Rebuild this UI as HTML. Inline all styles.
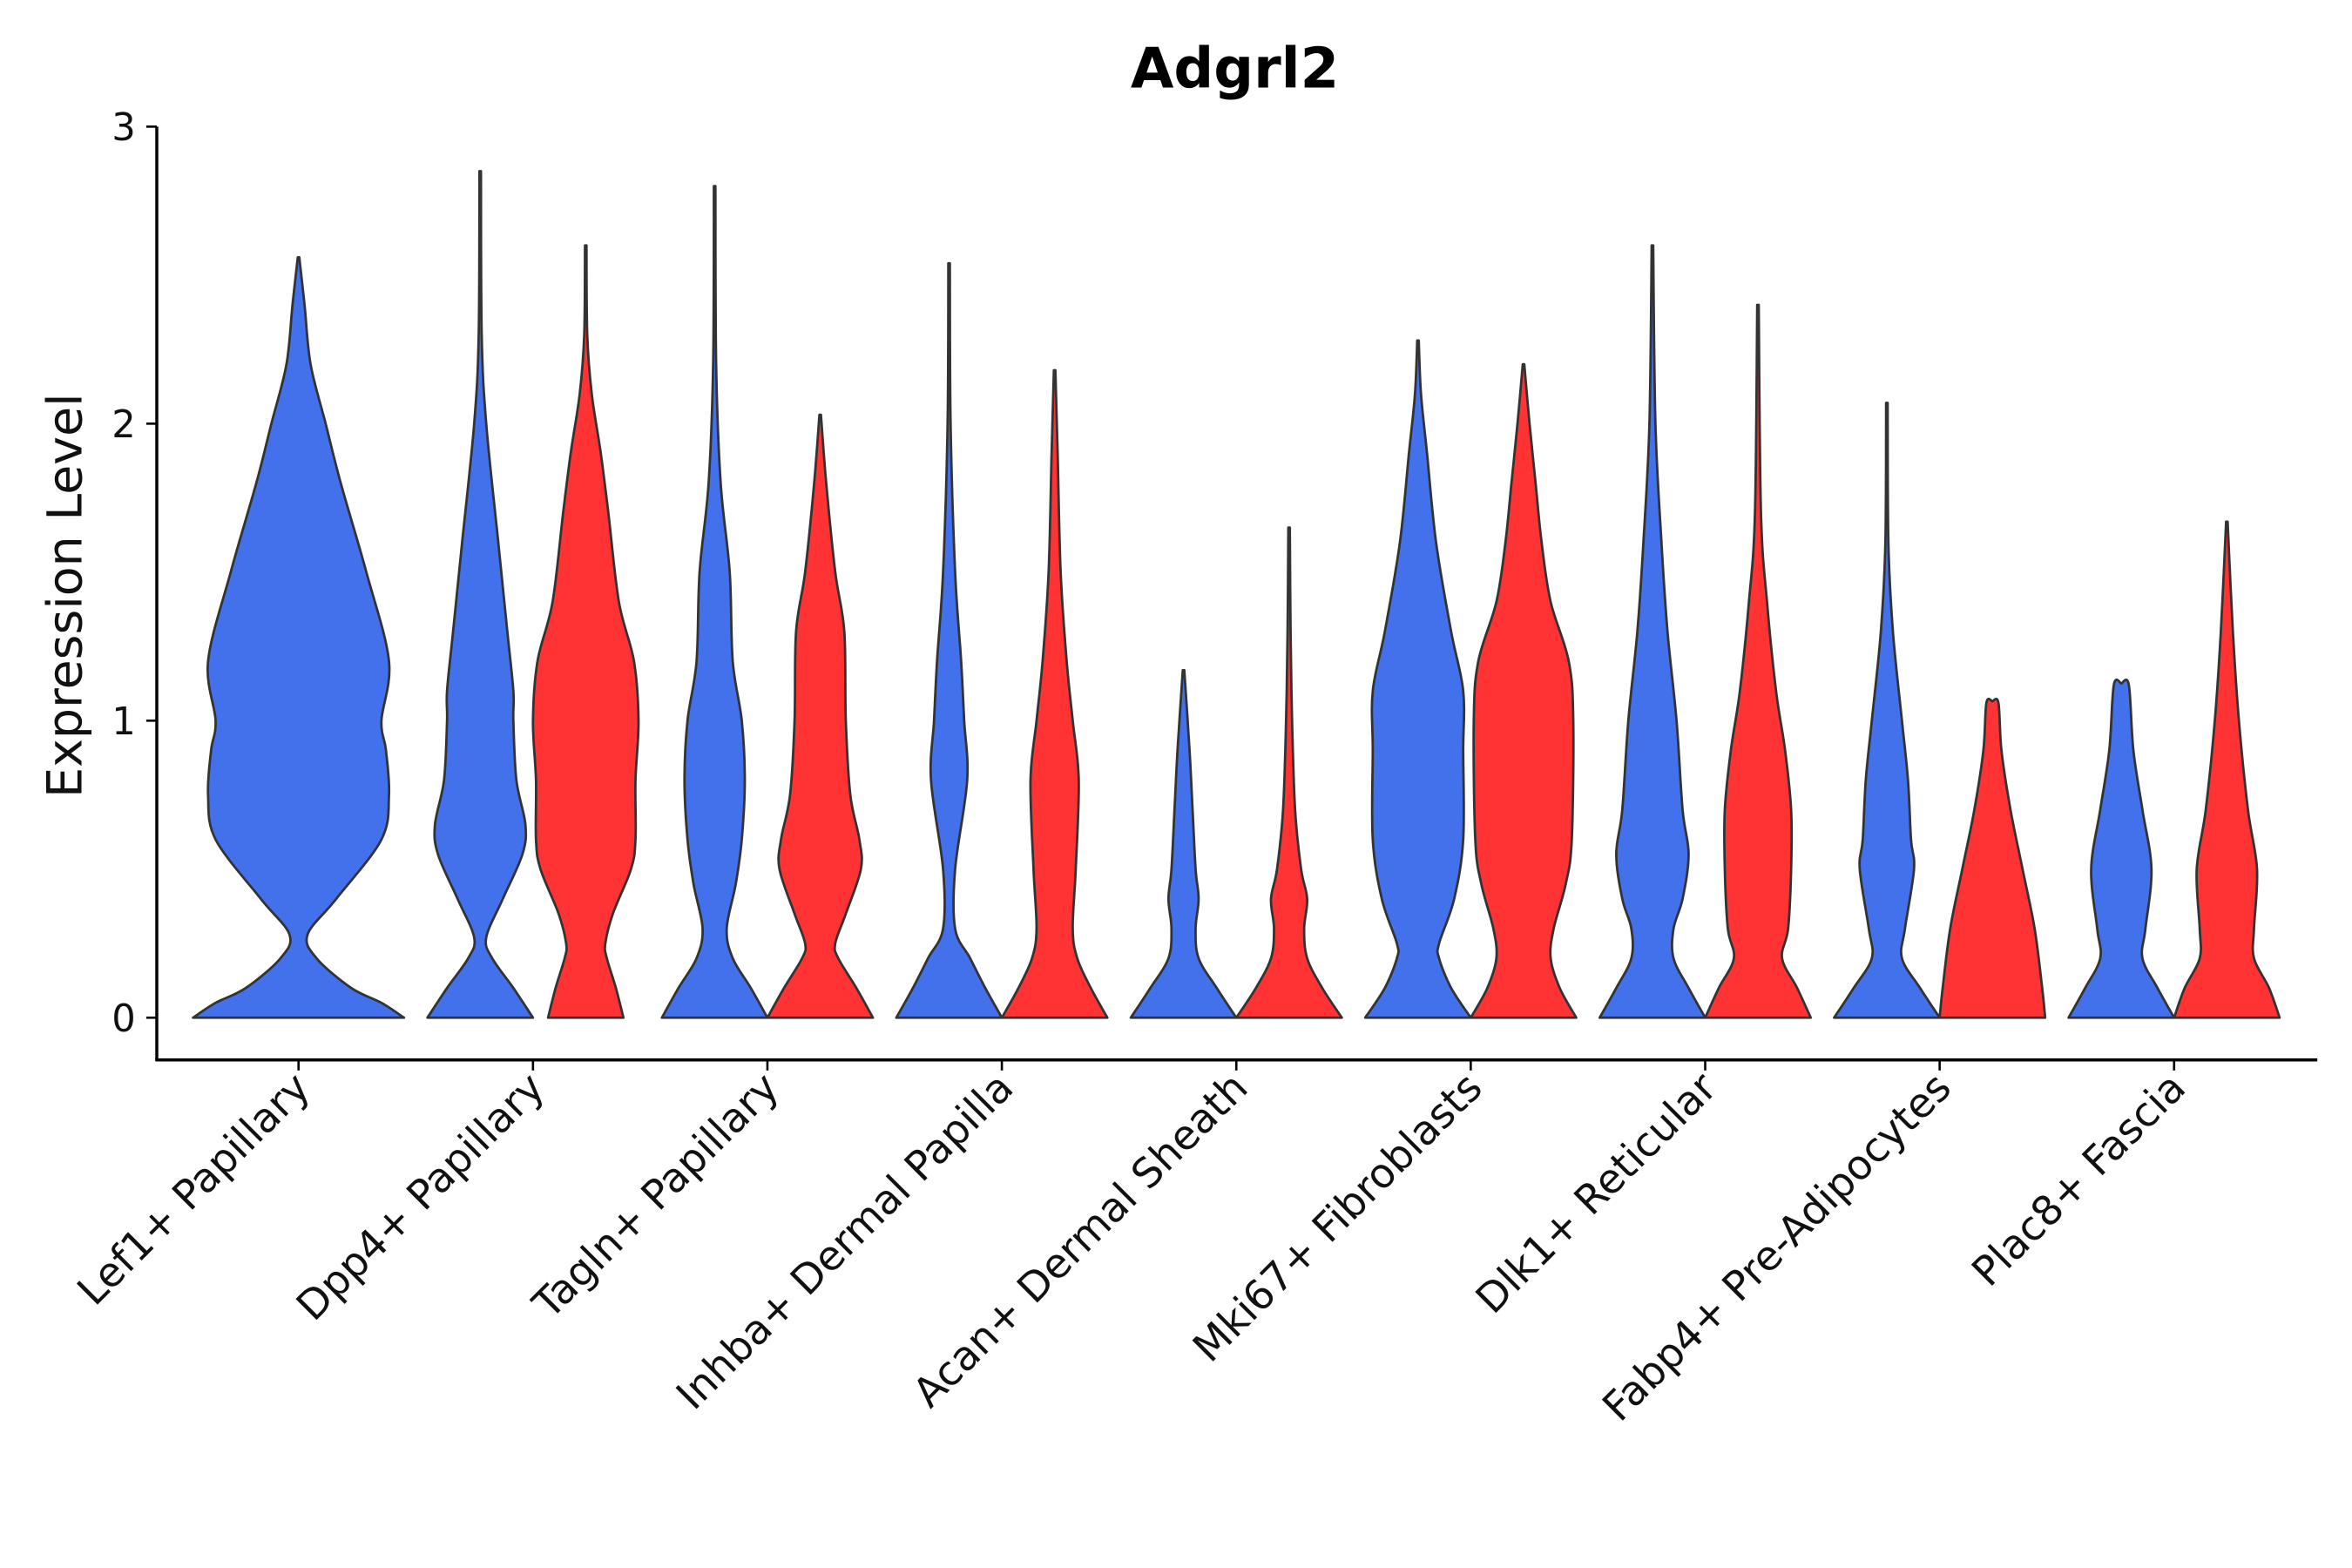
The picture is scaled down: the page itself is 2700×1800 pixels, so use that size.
<!DOCTYPE html>
<html><head><meta charset="utf-8"><style>html,body{margin:0;padding:0;background:#fff}svg{display:block}</style></head>
<body>
<svg id="chart" width="2700" height="1800" viewBox="0 0 1560 1040" xmlns="http://www.w3.org/2000/svg" font-family="'DejaVu Sans','Liberation Sans',sans-serif">
<rect width="1560" height="1040" fill="#fff"/>
<text x="819" y="58" text-anchor="middle" font-size="37" font-weight="bold">Adgrl2</text>
<text transform="translate(54,395) rotate(-90)" text-anchor="middle" font-size="32" fill="#111">Expression Level</text>
<g id="plot"></g>
</svg>
<script>
const categories=["Lef1+ Papillary","Dpp4+ Papillary","Tagln+ Papillary","Inhba+ Dermal Papilla","Acan+ Dermal Sheath","Mki67+ Fibroblasts","Dlk1+ Reticular","Fabp4+ Pre-Adipocytes","Plac8+ Fascia"];
const yTicks=[0,1,2,3];
// profiles: [expression level, half-width]
const blueProfiles=[
[[0,70],[0.05,55],[0.1,35],[0.2,12],[0.28,6],[0.4,25],[0.6,55],[0.75,60],[0.9,58],[1.0,55],[1.2,60],[1.5,45],[1.8,28],[2.0,18],[2.2,8],[2.4,4],[2.56,0.5]],
[[0,35],[0.1,22],[0.2,8],[0.27,4],[0.4,15],[0.55,28],[0.65,30],[0.8,24],[1.0,22],[1.1,22],[1.3,18],[1.6,12],[2.0,4],[2.3,1],[2.85,0.5]],
[[0,35],[0.1,24],[0.2,12],[0.3,8],[0.45,14],[0.6,18],[0.8,20],[1.0,18],[1.2,12],[1.5,10],[1.8,4],[2.2,1],[2.8,0.5]],
[[0,35],[0.1,24],[0.2,14],[0.3,4],[0.5,4],[0.8,12],[1.0,10],[1.2,8],[1.5,4],[2.0,1],[2.54,0.5]],
[[0,35],[0.1,22],[0.2,10],[0.3,8],[0.4,10],[0.5,8],[0.7,6],[0.9,4],[1.17,0.5]],
[[0,35],[0.1,22],[0.2,14],[0.25,14],[0.4,24],[0.6,30],[0.9,30],[1.1,30],[1.3,22],[1.6,12],[1.9,6],[2.1,2],[2.28,0.5]],
[[0,35],[0.1,24],[0.2,14],[0.3,14],[0.4,20],[0.55,24],[0.7,20],[1.0,16],[1.3,10],[1.6,6],[2.0,2],[2.6,0.5]],
[[0,35],[0.1,22],[0.2,10],[0.3,12],[0.5,18],[0.6,16],[0.8,14],[1.0,10],[1.3,4],[1.6,1],[2.07,0.5]],
[[0,35],[0.1,24],[0.2,14],[0.3,16],[0.5,20],[0.7,14],[0.9,8],[1.12,5],[1.125,0]]
];
const redProfiles=[
null,
[[0,25],[0.1,20],[0.2,14],[0.25,13],[0.35,18],[0.5,30],[0.6,33],[0.8,33],[1.0,35],[1.2,32],[1.4,22],[1.7,15],[1.9,10],[2.1,4],[2.3,1],[2.6,0.5]],
[[0,35],[0.1,24],[0.2,12],[0.25,10],[0.35,17],[0.5,27],[0.6,26],[0.75,20],[1.0,17],[1.3,16],[1.5,10],[1.8,4],[2.03,0.5]],
[[0,35],[0.1,24],[0.2,15],[0.3,12],[0.5,14],[0.8,16],[1.0,12],[1.2,8],[1.5,4],[1.9,2],[2.18,0.5]],
[[0,35],[0.1,22],[0.2,12],[0.3,10],[0.4,12],[0.5,8],[0.7,4],[1.0,2],[1.3,1],[1.65,0.5]],
[[0,35],[0.1,24],[0.2,18],[0.3,20],[0.45,28],[0.6,32],[1.0,33],[1.2,30],[1.4,18],[1.6,12],[1.8,8],[2.0,4],[2.2,0.5]],
[[0,35],[0.1,26],[0.2,16],[0.3,20],[0.5,22],[0.7,22],[0.9,18],[1.1,12],[1.4,6],[1.7,2],[2.4,0.5]],
[[0,35],[0.1,33],[0.3,28],[0.5,20],[0.7,12],[0.9,6],[1.06,4],[1.065,0]],
[[0,35],[0.1,28],[0.2,18],[0.3,18],[0.5,20],[0.7,14],[1.0,8],[1.3,4],[1.67,0.5]]
];
const X0=104,X1=1537,YB=703;
const y=v=>675-v*197;
const cx=i=>198+i*155.5;
const NS="http://www.w3.org/2000/svg";
const g=document.getElementById('plot');
function mk(t,a){const e=document.createElementNS(NS,t);for(const k in a)e.setAttribute(k,a[k]);g.appendChild(e);return e;}
function smooth(pts){
  let d='';
  for(let i=0;i<pts.length-1;i++){
    const p0=pts[Math.max(i-1,0)],p1=pts[i],p2=pts[i+1],p3=pts[Math.min(i+2,pts.length-1)];
    const c1=[p1[0]+(p2[0]-p0[0])/6,p1[1]+(p2[1]-p0[1])/6];
    const c2=[p2[0]-(p3[0]-p1[0])/6,p2[1]-(p3[1]-p1[1])/6];
    d+=` C${c1[0].toFixed(2)},${c1[1].toFixed(2)} ${c2[0].toFixed(2)},${c2[1].toFixed(2)} ${p2[0].toFixed(2)},${p2[1].toFixed(2)}`;
  }
  return d;
}
function violin(prof,c,color,name){
  const right=prof.map(p=>[c+p[1],y(p[0])]);
  const left=prof.slice().reverse().map(p=>[c-p[1],y(p[0])]);
  const d=`M${right[0][0]},${right[0][1]}`+smooth(right)+` L${left[0][0]},${left[0][1]}`+smooth(left)+'Z';
  const e=mk('path',{d:d,fill:color,stroke:'#333','stroke-width':1.6,'stroke-linejoin':'round'});
  
  
}
categories.forEach((cat,i)=>{
  const c=cx(i);
  if(redProfiles[i]){
    violin(blueProfiles[i],c-35,'#4370EB','violin-blue-'+(i+1));
    violin(redProfiles[i],c+35,'#FF3333','violin-red-'+(i+1));
  } else {
    violin(blueProfiles[i],c,'#4370EB','violin-blue-'+(i+1));
  }
  const t=mk('line',{x1:c,x2:c,y1:YB,y2:YB+7,stroke:'#000','stroke-width':1.5});
  
  
  const l=mk('text',{transform:`translate(${c+9},${YB+20}) rotate(-45)`,'text-anchor':'end','font-size':27,fill:'#111'});
  l.textContent=cat;
  
  
});
yTicks.forEach(v=>{
  const t=mk('line',{x1:X0-7,x2:X0,y1:y(v),y2:y(v),stroke:'#000','stroke-width':1.5});
  
  
  const l=mk('text',{x:X0-14,y:y(v)+9,'text-anchor':'end','font-size':25,fill:'#111'});
  l.textContent=v;
  
  
});
const ya=mk('line',{x1:X0,x2:X0,y1:y(3),y2:YB,stroke:'#000','stroke-width':2});


const xa=mk('line',{x1:X0-1,x2:X1,y1:YB,y2:YB,stroke:'#000','stroke-width':2});


</script>
</body></html>
